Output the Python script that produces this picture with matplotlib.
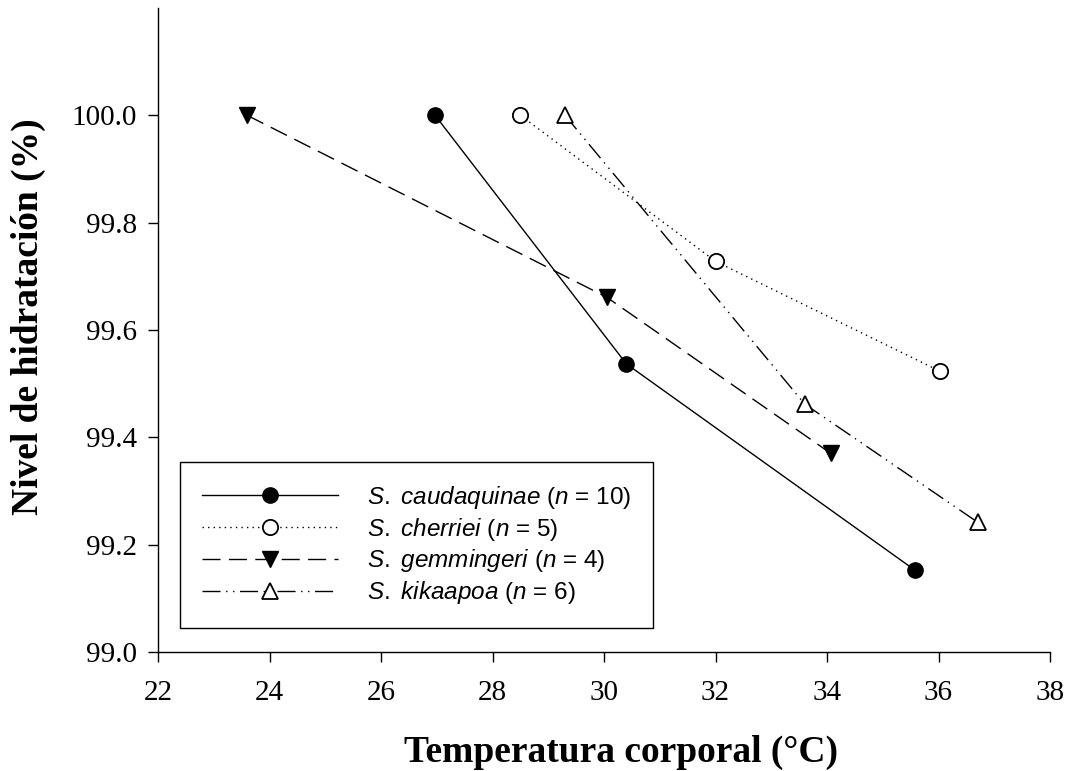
import matplotlib
matplotlib.use("Agg")
import matplotlib.pyplot as plt

# Data
cau_x = [26.97, 30.40, 35.57]
cau_y = [100.0, 99.537, 99.153]
che_x = [28.50, 32.00, 36.03]
che_y = [100.0, 99.728, 99.523]
gem_x = [23.60, 30.05, 34.07]
gem_y = [100.0, 99.661, 99.370]
kik_x = [29.30, 33.60, 36.70]
kik_y = [100.0, 99.462, 99.242]

labels = [r"$\it{S.}$ $\it{caudaquinae}$ ($\it{n}$ = 10)",
          r"$\it{S.}$ $\it{cherriei}$ ($\it{n}$ = 5)",
          r"$\it{S.}$ $\it{gemmingeri}$ ($\it{n}$ = 4)",
          r"$\it{S.}$ $\it{kikaapoa}$ ($\it{n}$ = 6)"]

xticks = [22, 24, 26, 28, 30, 32, 34, 36, 38]
yticks = [99.0, 99.2, 99.4, 99.6, 99.8, 100.0]

plt.rcParams['font.family'] = ['Liberation Serif', 'DejaVu Serif']
plt.rcParams['mathtext.fontset'] = 'custom'
plt.rcParams['mathtext.it'] = 'Liberation Sans:italic'
plt.rcParams['mathtext.rm'] = 'Liberation Sans'

fig = plt.figure(figsize=(10.72, 7.71), dpi=100)
ax = fig.add_axes([0.1474, 0.1543, 0.8321, 0.8353])

lw = 1.0
ms = 11
ax.plot(cau_x, cau_y, color='black', lw=lw, linestyle='-', marker='o', ms=ms,
        mfc='black', mec='black', label=labels[0])
ax.plot(che_x, che_y, color='black', lw=lw, linestyle=(0, (1, 3)), marker='o', ms=ms,
        mfc='white', mec='black', mew=1.3, label=labels[1])
ax.plot(gem_x, gem_y, color='black', lw=lw, linestyle=(0, (13, 6)), marker='v', ms=ms+1,
        mfc='black', mec='black', label=labels[2])
ax.plot(kik_x, kik_y, color='black', lw=lw, linestyle=(0, (13, 4, 1, 4, 1, 4)), marker='^', ms=ms,
        mfc='white', mec='black', mew=1.3, label=labels[3])

ax.set_xlim(22, 38)
ax.set_ylim(99.0, 100.2)
ax.set_xticks(xticks)
ax.set_yticks(yticks)
ax.set_xticklabels([str(t) for t in xticks])
ax.set_yticklabels([f"{t:.1f}" for t in yticks])
ax.tick_params(axis='both', direction='out', length=7, width=1, labelsize=21)
ax.tick_params(axis='x', pad=13)
ax.tick_params(axis='y', pad=8)
ax.spines['top'].set_visible(False)
ax.spines['right'].set_visible(False)
for s in ['left', 'bottom']:
    ax.spines[s].set_linewidth(1)

ax.set_xlabel("Temperatura corporal (°C)", fontsize=27, fontweight='bold')
ax.set_ylabel("Nivel de hidratación (%)", fontsize=27, fontweight='bold')
ax.xaxis.set_label_coords(0.519, -0.128)
ax.yaxis.set_label_coords(-0.126, 0.52)

leg = ax.legend(loc='lower left', bbox_to_anchor=(0.025, 0.037),
                prop={'family': 'Liberation Sans', 'size': 17.5},
                frameon=True, fancybox=False, edgecolor='black', framealpha=1,
                handlelength=5.6, handletextpad=1.2, borderpad=0.9, labelspacing=0.2,
                borderaxespad=0)
leg.get_frame().set_linewidth(1)

fig.savefig("out.png", dpi=100)
